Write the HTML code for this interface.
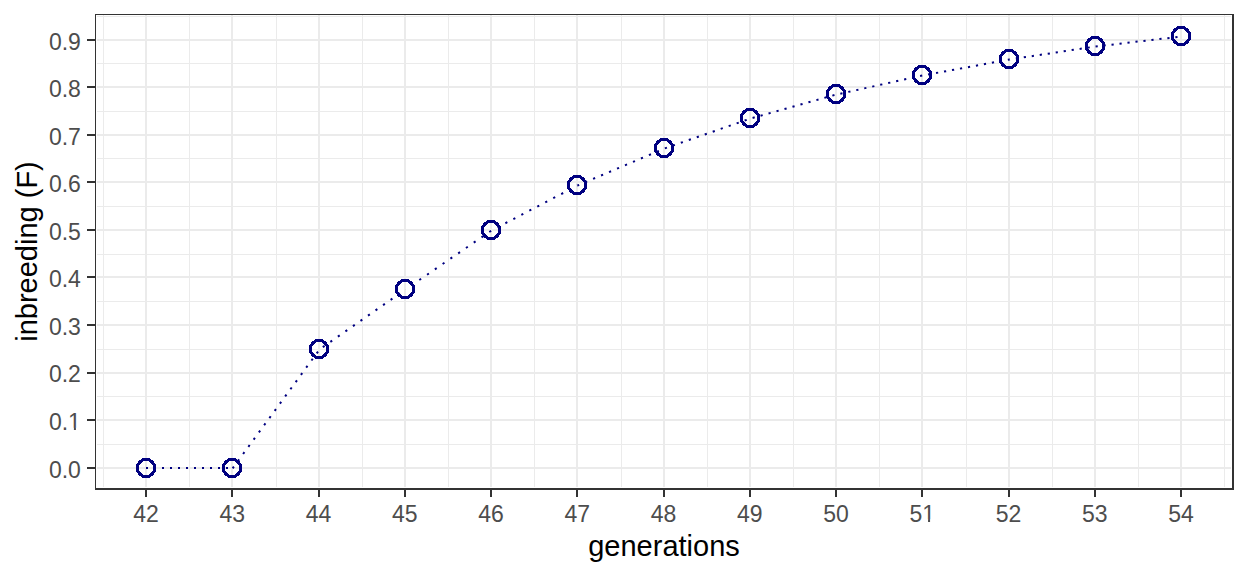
<!DOCTYPE html>
<html lang="en"><head><meta charset="utf-8"><title>inbreeding (F) by generations</title>
<style>
html,body{margin:0;padding:0;background:#fff;}
body{width:1248px;height:576px;overflow:hidden;}
svg{display:block;font-family:"Liberation Sans",sans-serif;}
.tk{font-size:23px;fill:#4d4d4d;}
.tt{font-size:29px;fill:#000;}
</style></head><body>
<svg width="1248" height="576" viewBox="0 0 1248 576">
<rect x="0" y="0" width="1248" height="576" fill="#ffffff"/>

<g fill="#ebebeb" shape-rendering="crispEdges">
<rect x="97" y="444" width="1134" height="1"/>
<rect x="97" y="396" width="1134" height="1"/>
<rect x="97" y="349" width="1134" height="1"/>
<rect x="97" y="301" width="1134" height="1"/>
<rect x="97" y="254" width="1134" height="1"/>
<rect x="97" y="206" width="1134" height="1"/>
<rect x="97" y="158" width="1134" height="1"/>
<rect x="97" y="111" width="1134" height="1"/>
<rect x="97" y="63" width="1134" height="1"/>
<rect x="97" y="16" width="1134" height="1"/>
<rect x="103" y="15" width="1" height="472"/>
<rect x="189" y="15" width="1" height="472"/>
<rect x="276" y="15" width="1" height="472"/>
<rect x="362" y="15" width="1" height="472"/>
<rect x="448" y="15" width="1" height="472"/>
<rect x="534" y="15" width="1" height="472"/>
<rect x="621" y="15" width="1" height="472"/>
<rect x="707" y="15" width="1" height="472"/>
<rect x="793" y="15" width="1" height="472"/>
<rect x="879" y="15" width="1" height="472"/>
<rect x="966" y="15" width="1" height="472"/>
<rect x="1052" y="15" width="1" height="472"/>
<rect x="1138" y="15" width="1" height="472"/>
<rect x="1224" y="15" width="1" height="472"/>
<rect x="97" y="467" width="1134" height="2"/>
<rect x="97" y="419" width="1134" height="2"/>
<rect x="97" y="372" width="1134" height="2"/>
<rect x="97" y="324" width="1134" height="2"/>
<rect x="97" y="276" width="1134" height="2"/>
<rect x="97" y="229" width="1134" height="2"/>
<rect x="97" y="181" width="1134" height="2"/>
<rect x="97" y="134" width="1134" height="2"/>
<rect x="97" y="86" width="1134" height="2"/>
<rect x="97" y="39" width="1134" height="2"/>
<rect x="145" y="15" width="2" height="472"/>
<rect x="231" y="15" width="2" height="472"/>
<rect x="318" y="15" width="2" height="472"/>
<rect x="404" y="15" width="2" height="472"/>
<rect x="490" y="15" width="2" height="472"/>
<rect x="576" y="15" width="2" height="472"/>
<rect x="663" y="15" width="2" height="472"/>
<rect x="749" y="15" width="2" height="472"/>
<rect x="835" y="15" width="2" height="472"/>
<rect x="921" y="15" width="2" height="472"/>
<rect x="1008" y="15" width="2" height="472"/>
<rect x="1094" y="15" width="2" height="472"/>
<rect x="1180" y="15" width="2" height="472"/>
</g>
<g fill="none" stroke="#000080" stroke-width="2">
<line x1="146" y1="468" x2="232" y2="468" stroke-dasharray="2.000 6.000" stroke-dashoffset="0.000"/>
<line x1="232.5" y1="468.5" x2="319.5" y2="349.5" stroke-dasharray="2.200 6.707" stroke-dashoffset="8.743"/>
<line x1="319.5" y1="349.5" x2="405.5" y2="289.5" stroke-dasharray="2.200 6.982" stroke-dashoffset="5.136"/>
<line x1="405.5" y1="289.5" x2="491.5" y2="230.5" stroke-dasharray="2.200 7.235" stroke-dashoffset="2.143"/>
<line x1="491.5" y1="230.5" x2="577.5" y2="185.5" stroke-dasharray="2.200 6.803" stroke-dashoffset="2.346"/>
<line x1="577.5" y1="185.5" x2="664.5" y2="148.5" stroke-dasharray="2.200 6.468" stroke-dashoffset="0.401"/>
<line x1="664.5" y1="148.5" x2="750.5" y2="118.5" stroke-dasharray="2.200 6.248" stroke-dashoffset="8.076"/>
<line x1="750.5" y1="118.5" x2="836.5" y2="94.5" stroke-dasharray="2.200 6.082" stroke-dashoffset="6.125"/>
<line x1="836.5" y1="94.5" x2="922.5" y2="75.5" stroke-dasharray="2.200 5.969" stroke-dashoffset="4.268"/>
<line x1="922.5" y1="75.5" x2="1009.5" y2="59.5" stroke-dasharray="2.200 5.911" stroke-dashoffset="2.469"/>
<line x1="1009.5" y1="59.5" x2="1095.5" y2="46.5" stroke-dasharray="2.200 5.868" stroke-dashoffset="1.706"/>
<line x1="1095.5" y1="46.5" x2="1181.5" y2="36.5" stroke-dasharray="2.200 5.831" stroke-dashoffset="7.975"/>
</g>
<g fill="none" stroke="#000080" stroke-width="3.1" shape-rendering="crispEdges">
<circle cx="146" cy="468" r="8.65"/>
<circle cx="232" cy="468" r="8.65"/>
<circle cx="319" cy="349" r="8.65"/>
<circle cx="405" cy="289" r="8.65"/>
<circle cx="491" cy="230" r="8.65"/>
<circle cx="577" cy="185" r="8.65"/>
<circle cx="664" cy="148" r="8.65"/>
<circle cx="750" cy="118" r="8.65"/>
<circle cx="836" cy="94" r="8.65"/>
<circle cx="922" cy="75" r="8.65"/>
<circle cx="1009" cy="59" r="8.65"/>
<circle cx="1095" cy="46" r="8.65"/>
<circle cx="1181" cy="36" r="8.65"/>
</g>
<g fill="#333333" shape-rendering="crispEdges">
<rect x="95" y="14" width="1139" height="1"/>
<rect x="95" y="14" width="1" height="476"/>
<rect x="1232" y="14" width="2" height="476"/>
<rect x="95" y="488" width="1139" height="2"/>
<rect x="87" y="467" width="8" height="2"/>
<rect x="87" y="419" width="8" height="2"/>
<rect x="87" y="372" width="8" height="2"/>
<rect x="87" y="324" width="8" height="2"/>
<rect x="87" y="276" width="8" height="2"/>
<rect x="87" y="229" width="8" height="2"/>
<rect x="87" y="181" width="8" height="2"/>
<rect x="87" y="134" width="8" height="2"/>
<rect x="87" y="86" width="8" height="2"/>
<rect x="87" y="39" width="8" height="2"/>
<rect x="145" y="490" width="2" height="7"/>
<rect x="231" y="490" width="2" height="7"/>
<rect x="318" y="490" width="2" height="7"/>
<rect x="404" y="490" width="2" height="7"/>
<rect x="490" y="490" width="2" height="7"/>
<rect x="576" y="490" width="2" height="7"/>
<rect x="663" y="490" width="2" height="7"/>
<rect x="749" y="490" width="2" height="7"/>
<rect x="835" y="490" width="2" height="7"/>
<rect x="921" y="490" width="2" height="7"/>
<rect x="1008" y="490" width="2" height="7"/>
<rect x="1094" y="490" width="2" height="7"/>
<rect x="1180" y="490" width="2" height="7"/>
</g>
<g class="tk" text-anchor="end">
<text x="80.9" y="477.5">0.0</text>
<text x="80.9" y="430.0">0.1</text>
<text x="80.9" y="382.4">0.2</text>
<text x="80.9" y="334.9">0.3</text>
<text x="80.9" y="287.4">0.4</text>
<text x="80.9" y="239.8">0.5</text>
<text x="80.9" y="192.3">0.6</text>
<text x="80.9" y="144.7">0.7</text>
<text x="80.9" y="97.2">0.8</text>
<text x="80.9" y="49.6">0.9</text>
</g>
<g class="tk" text-anchor="middle">
<text x="146.0" y="521.6">42</text>
<text x="232.2" y="521.6">43</text>
<text x="318.5" y="521.6">44</text>
<text x="404.8" y="521.6">45</text>
<text x="491.0" y="521.6">46</text>
<text x="577.2" y="521.6">47</text>
<text x="663.5" y="521.6">48</text>
<text x="749.8" y="521.6">49</text>
<text x="836.0" y="521.6">50</text>
<text x="922.2" y="521.6">51</text>
<text x="1008.5" y="521.6">52</text>
<text x="1094.8" y="521.6">53</text>
<text x="1181.0" y="521.6">54</text>
</g>
<g fill="#ffffff">
<rect x="68.46" y="427.83" width="5.43" height="2.92"/><rect x="75.92" y="427.83" width="5.25" height="2.92"/>
<rect x="922.60" y="519.43" width="5.43" height="2.92"/><rect x="930.07" y="519.43" width="5.25" height="2.92"/>
</g>
<text class="tt" text-anchor="middle" x="664" y="556.3">generations</text>
<text class="tt" text-anchor="middle" transform="translate(37.1,251.5) rotate(-90)">inbreeding (F)</text>
</svg>
</body></html>
